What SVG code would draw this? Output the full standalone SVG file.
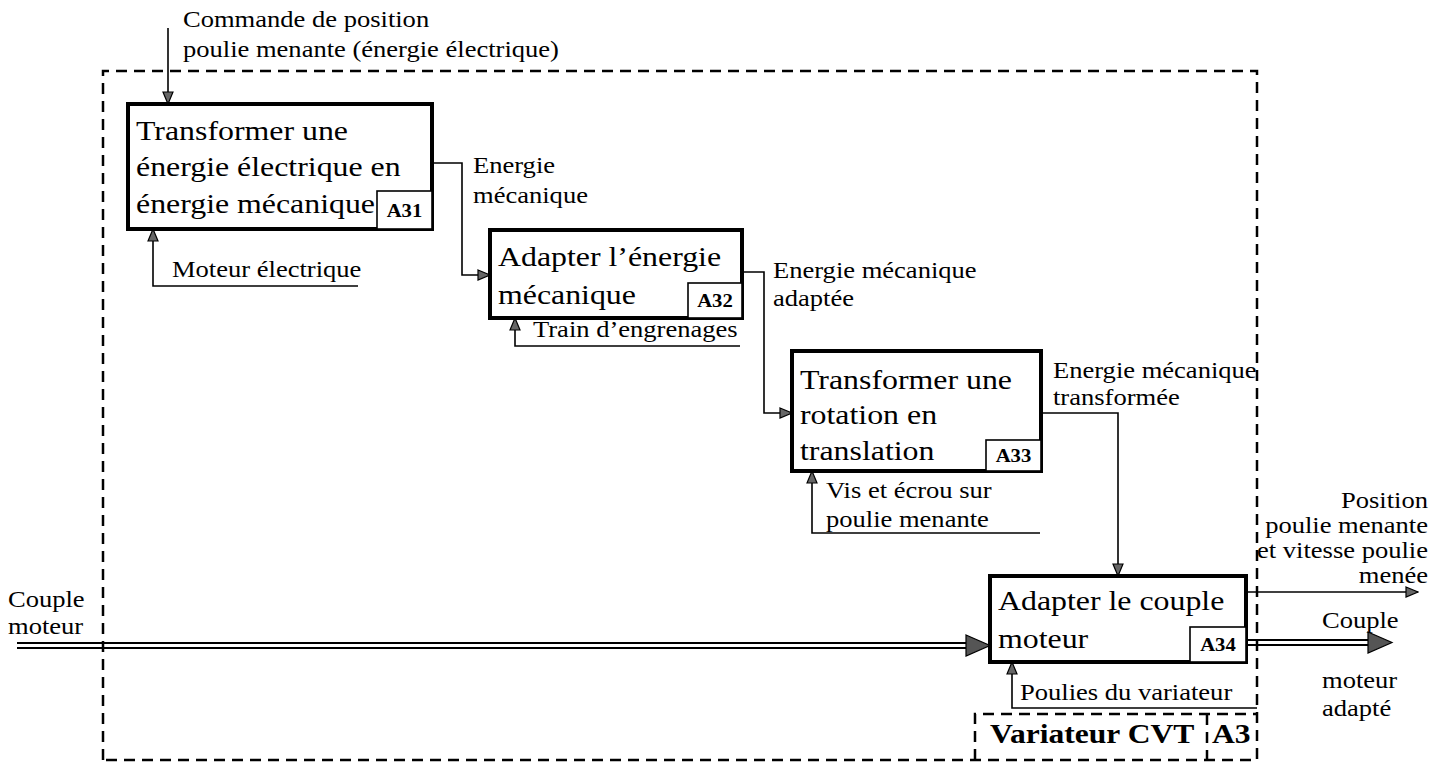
<svg xmlns="http://www.w3.org/2000/svg" width="1440" height="764" viewBox="0 0 1440 764">
<style>
.title{font-family:"Liberation Serif","Times New Roman",serif;font-size:27px;fill:#000}
.lbl{font-family:"Liberation Serif","Times New Roman",serif;font-size:22.5px;fill:#000}
.code{font-family:"Liberation Serif","Times New Roman",serif;font-size:18px;font-weight:bold;fill:#000}
.big{font-family:"Liberation Serif","Times New Roman",serif;font-size:27px;font-weight:bold;fill:#000}
.box{fill:#fff;stroke:#000;stroke-width:4}
.cbox{fill:#fff;stroke:#000;stroke-width:1.6}
.ln{fill:none;stroke:#000;stroke-width:1.6}
.dash{fill:none;stroke:#000;stroke-width:2.5;stroke-dasharray:11 7}
.dbl{fill:none;stroke:#000;stroke-width:1.8}
.dhead{fill:#555;stroke:#000;stroke-width:1.2}
</style>
<defs>
<marker id="ah" markerWidth="14" markerHeight="12" refX="13" refY="6" orient="auto" markerUnits="userSpaceOnUse">
<path d="M1,1 L13,6 L1,11 Z" fill="#666" stroke="#000" stroke-width="1.2"/>
</marker>
</defs>
<rect width="1440" height="764" fill="#fff"/>

<g id="boundary">
<path class="dash" d="M103,760 L103,71 L1257,71 L1257,760 L103,760"/>
<path class="dash" d="M975,760 L975,714 L1257,714"/>
<line class="dash" x1="1207" y1="714" x2="1207" y2="760"/>
<text class="big" transform="translate(990,743) scale(1.17,1)">Variateur CVT</text>
<text class="big" transform="translate(1212,743) scale(1.17,1)">A3</text>
</g>

<g id="connectors">
<line class="ln" x1="168" y1="28" x2="168" y2="104" marker-end="url(#ah)"/>
<path class="ln" d="M358,286 L153,286 L153,229" marker-end="url(#ah)"/>
<path class="ln" d="M432,163 L462,163 L462,275 L490,275" marker-end="url(#ah)"/>
<path class="ln" d="M740,346 L515,346 L515,318" marker-end="url(#ah)"/>
<path class="ln" d="M742,272 L764,272 L764,413 L792,413" marker-end="url(#ah)"/>
<path class="ln" d="M1040,533 L812,533 L812,471" marker-end="url(#ah)"/>
<path class="ln" d="M1041,413 L1118,413 L1118,576" marker-end="url(#ah)"/>
<path class="ln" d="M1257,708 L1012,708 L1012,662" marker-end="url(#ah)"/>
<line class="ln" x1="1246" y1="592" x2="1418" y2="592" marker-end="url(#ah)"/>
<line class="dbl" x1="17" y1="643" x2="970" y2="643"/>
<line class="dbl" x1="17" y1="648" x2="970" y2="648"/>
<polygon class="dhead" points="966,635 990,645.5 966,656"/>
<line class="dbl" x1="1246" y1="640" x2="1372" y2="640"/>
<line class="dbl" x1="1246" y1="645" x2="1372" y2="645"/>
<polygon class="dhead" points="1368,632 1392,642.5 1368,653"/>
</g>

<g id="A31">
<rect class="box" x="128" y="104" width="304" height="125"/>
<rect class="cbox" x="377" y="191" width="55" height="38"/>
<text class="title" transform="translate(136,140) scale(1.18,1)"><tspan x="0" y="0">Transformer une</tspan><tspan x="0" y="36">énergie électrique en</tspan><tspan x="0" y="73">énergie mécanique</tspan></text>
<text class="code" text-anchor="middle" transform="translate(404.5,217) scale(1.15,1)">A31</text>
</g>

<g id="A32">
<rect class="box" x="490" y="230" width="252" height="88"/>
<rect class="cbox" x="688" y="283" width="54" height="35"/>
<text class="title" transform="translate(498,266) scale(1.18,1)"><tspan x="0" y="0">Adapter l’énergie</tspan><tspan x="0" y="38">mécanique</tspan></text>
<text class="code" text-anchor="middle" transform="translate(715,307) scale(1.15,1)">A32</text>
</g>

<g id="A33">
<rect class="box" x="792" y="351" width="249" height="120"/>
<rect class="cbox" x="986" y="440" width="55" height="31"/>
<text class="title" transform="translate(800,389) scale(1.18,1)"><tspan x="0" y="0">Transformer une</tspan><tspan x="0" y="35">rotation en</tspan><tspan x="0" y="71">translation</tspan></text>
<text class="code" text-anchor="middle" transform="translate(1013.5,462) scale(1.15,1)">A33</text>
</g>

<g id="A34">
<rect class="box" x="990" y="576" width="256" height="86"/>
<rect class="cbox" x="1190" y="627" width="56" height="35"/>
<text class="title" transform="translate(998,610) scale(1.18,1)"><tspan x="0" y="0">Adapter le couple</tspan><tspan x="0" y="38">moteur</tspan></text>
<text class="code" text-anchor="middle" transform="translate(1218,651) scale(1.15,1)">A34</text>
</g>

<g id="labels">
<text class="lbl" transform="translate(183,27) scale(1.18,1)"><tspan x="0" y="0">Commande de position</tspan><tspan x="0" y="30">poulie menante (énergie électrique)</tspan></text>
<text class="lbl" transform="translate(473,173) scale(1.18,1)"><tspan x="0" y="0">Energie</tspan><tspan x="0" y="30">mécanique</tspan></text>
<text class="lbl" transform="translate(172,277) scale(1.18,1)">Moteur électrique</text>
<text class="lbl" transform="translate(773,278) scale(1.18,1)"><tspan x="0" y="0">Energie mécanique</tspan><tspan x="0" y="28">adaptée</tspan></text>
<text class="lbl" transform="translate(533,337) scale(1.18,1)">Train d’engrenages</text>
<text class="lbl" transform="translate(1053,378) scale(1.18,1)"><tspan x="0" y="0">Energie mécanique</tspan><tspan x="0" y="27">transformée</tspan></text>
<text class="lbl" transform="translate(826,498) scale(1.18,1)"><tspan x="0" y="0">Vis et écrou sur</tspan><tspan x="0" y="29">poulie menante</tspan></text>
<text class="lbl" transform="translate(1020,700) scale(1.18,1)">Poulies du variateur</text>
<text class="lbl" text-anchor="end" transform="translate(1428,508) scale(1.18,1)"><tspan x="0" y="0">Position</tspan><tspan x="0" y="25">poulie menante</tspan><tspan x="0" y="50">et vitesse poulie</tspan><tspan x="0" y="75">menée</tspan></text>
<text class="lbl" transform="translate(1322,628) scale(1.18,1)">Couple</text>
<text class="lbl" transform="translate(1322,688) scale(1.18,1)"><tspan x="0" y="0">moteur</tspan><tspan x="0" y="28">adapté</tspan></text>
<text class="lbl" transform="translate(8,607) scale(1.18,1)"><tspan x="0" y="0">Couple</tspan><tspan x="0" y="27">moteur</tspan></text>
</g>
</svg>
